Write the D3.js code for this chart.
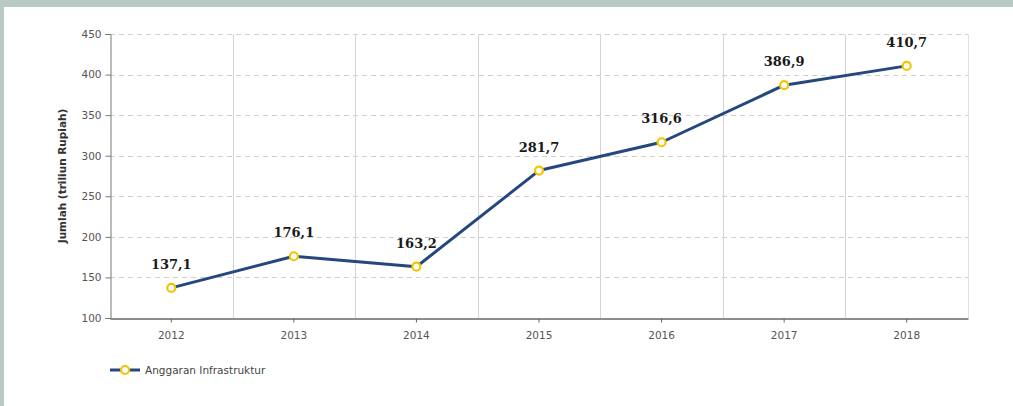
<!DOCTYPE html>
<html><head><meta charset="utf-8">
<script src="https://cdn.jsdelivr.net/npm/d3@7"></script>
<style>
html,body{margin:0;padding:0;background:#b9cac5;}
svg{display:block;}
</style></head>
<body>
<svg id="c" width="1013" height="406"></svg>
<script>
const years = ["2012","2013","2014","2015","2016","2017","2018"];
const values = [137.1,176.1,163.2,281.7,316.6,386.9,410.7];
const valueLabels = ["137,1","176,1","163,2","281,7","316,6","386,9","410,7"];
const yTicks = [100,150,200,250,300,350,400,450];
const seriesName = "Anggaran Infrastruktur";
const yTitle = "Jumlah (triliun Rupiah)";

const svg = d3.select("#c");
svg.append("rect").attr("x",4).attr("y",7).attr("width",1009).attr("height",399).attr("fill","#fff");

const L=110, R=968, T=34, B=318;
const x = d3.scaleBand().domain(years).range([L,R]);
const y = d3.scaleLinear().domain([100,450]).range([B,T]);
const cx = d => x(d)+x.bandwidth()/2;

// horizontal dashed grid
svg.append("g").selectAll("line").data(yTicks.filter(t=>t>100)).join("line")
  .attr("x1",L).attr("x2",R).attr("y1",d=>Math.round(y(d))+0.5).attr("y2",d=>Math.round(y(d))+0.5)
  .attr("stroke","#cfcfcf").attr("stroke-dasharray","5,4");
// vertical grid
svg.append("g").selectAll("line").data(years.slice(1)).join("line")
  .attr("x1",d=>Math.round(x(d))+0.5).attr("x2",d=>Math.round(x(d))+0.5).attr("y1",T).attr("y2",B)
  .attr("stroke","#d4d4d4");
svg.append("line").attr("x1",R+0.5).attr("x2",R+0.5).attr("y1",T).attr("y2",B).attr("stroke","#e0e0e0");

// y axis
const ya = svg.append("g").attr("transform",`translate(${L+0.5},0)`)
  .call(d3.axisLeft(y).tickValues(yTicks).tickSize(5).tickPadding(4));
ya.select(".domain").attr("stroke","#777");
ya.selectAll(".tick line").attr("stroke","#777");
ya.selectAll("text").attr("fill","#555").style("font-family","DejaVu Sans").style("font-size","10.5px");

// x axis
const xa = svg.append("g").attr("transform",`translate(0,${B+0.5})`)
  .call(d3.axisBottom(x).tickSize(4).tickPadding(9).tickSizeOuter(0));
xa.select(".domain").attr("stroke","#666").attr("stroke-width",1.3);
xa.selectAll(".tick line").attr("stroke","#666");
xa.selectAll("text").attr("fill","#555").style("font-family","DejaVu Sans").style("font-size","10.5px");

// y title
svg.append("text").attr("transform",`translate(66,${(T+B)/2}) rotate(-90)`)
  .attr("text-anchor","middle").attr("fill","#333")
  .style("font-family","DejaVu Sans").style("font-weight","bold").style("font-size","10.5px")
  .text(yTitle);

// line
const line = d3.line().x((d,i)=>cx(years[i])).y(d=>y(d));
svg.append("path").datum(values).attr("d",line).attr("fill","none")
  .attr("stroke","#24487e").attr("stroke-width",3).attr("stroke-linejoin","round");
svg.append("g").selectAll("circle").data(values).join("circle")
  .attr("cx",(d,i)=>cx(years[i])).attr("cy",d=>y(d)).attr("r",4)
  .attr("fill","#fff").attr("stroke","#f5c400").attr("stroke-width",2.2);

// value labels
svg.append("g").selectAll("text").data(values).join("text")
  .attr("x",(d,i)=>cx(years[i])).attr("y",d=>y(d)-19)
  .attr("text-anchor","middle").attr("fill","#1a1a1a")
  .style("font-family","DejaVu Serif").style("font-weight","bold").style("font-size","13px")
  .text((d,i)=>valueLabels[i]);

// legend
const lg = svg.append("g").attr("transform","translate(110,370)");
lg.append("line").attr("x1",0).attr("x2",30).attr("y1",0).attr("y2",0).attr("stroke","#24487e").attr("stroke-width",3);
lg.append("circle").attr("cx",15).attr("cy",0).attr("r",4).attr("fill","#fff").attr("stroke","#f5c400").attr("stroke-width",2.2);
lg.append("text").attr("x",35).attr("y",3.5).attr("fill","#444")
  .style("font-family","DejaVu Sans").style("font-size","10.5px").text(seriesName);
</script>
</body></html>
